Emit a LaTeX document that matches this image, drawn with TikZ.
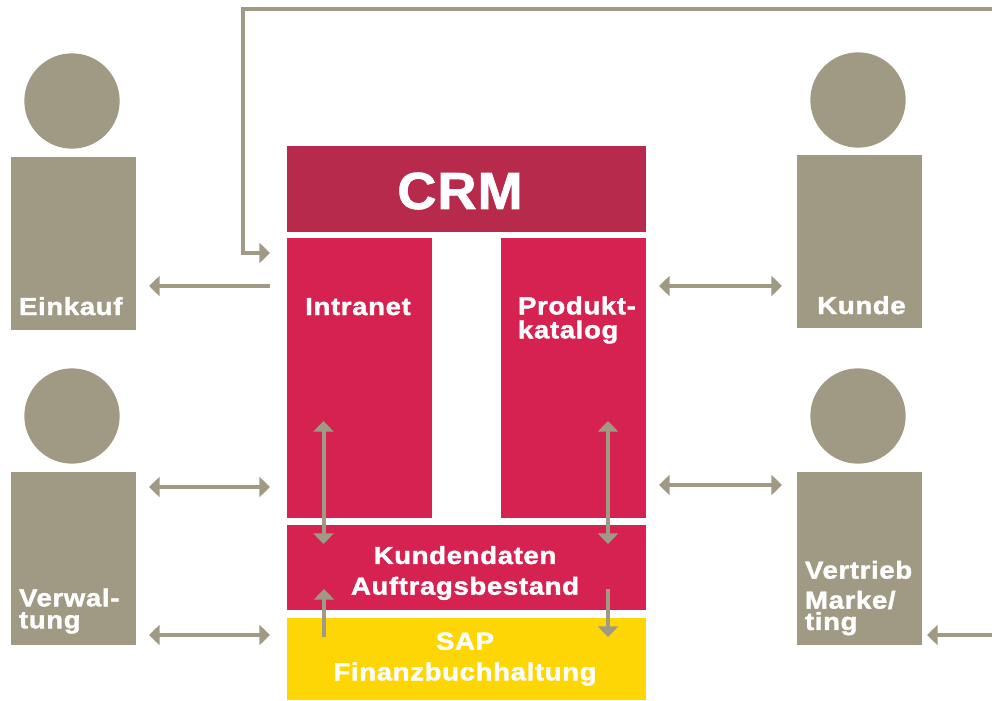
\documentclass[tikz,border=0pt]{standalone}
\usepackage{fontspec}
\setmainfont{Liberation Sans}
\newfontfamily\crmfont{Liberation Sans Bold}[FakeBold=1.5,FakeStretch=1.04,LetterSpace=2]
\newfontfamily\lblfont{Liberation Sans Bold}[FakeBold=1.5,FakeStretch=1.12,LetterSpace=2.5]
\usetikzlibrary{arrows.meta}
\definecolor{persongray}{HTML}{A09A85}
\definecolor{crmred}{HTML}{B82A4C}
\definecolor{appred}{HTML}{D62250}
\definecolor{sapyellow}{HTML}{FFD605}
\tikzset{
  x=0.75pt,y=-0.75pt,
  blockbox/.style={inner sep=0,outer sep=0,draw=none},
  head/.style={circle,fill=persongray,inner sep=0,outer sep=0,minimum size=71.5pt},
  body/.style={blockbox,fill=persongray,minimum width=93.75pt,minimum height=129.75pt},
  lbl/.style={text=white,font=\fontsize{18.5}{18}\lblfont,inner sep=0,outer sep=0},
  conn/.style={draw=persongray,line width=3pt},
  one/.style={conn,-{Triangle[length=8pt,width=15pt]}},
  two/.style={conn,{Triangle[length=8pt,width=15pt]}-{Triangle[length=8pt,width=15pt]}},
}
\begin{document}
\begin{tikzpicture}
\useasboundingbox (0,0) rectangle (992,700);
% persons
\node[head] (h1) at (72,101) {};
\node[body] (b1) at (73.5,243.5) {};
\node[head] (h2) at (72,416) {};
\node[body] (b2) at (73.5,558.5) {};
\node[head] (h3) at (858,100) {};
\node[body] (b3) at (859.5,241.5) {};
\node[head] (h4) at (858,416) {};
\node[body] (b4) at (859.5,558.5) {};
% blocks
\node[blockbox,fill=crmred,minimum width=269.25pt,minimum height=64.5pt] (crm) at (466.5,189) {};
\node[blockbox,fill=appred,minimum width=108.75pt,minimum height=210pt] (intra) at (359.5,378) {};
\node[blockbox,fill=appred,minimum width=108.75pt,minimum height=210pt] (prod) at (573.5,378) {};
\node[blockbox,fill=appred,minimum width=269.25pt,minimum height=63.75pt] (kd) at (466.5,567.5) {};
\node[blockbox,fill=sapyellow,minimum width=269.25pt,minimum height=61.5pt] (sap) at (466.5,659) {};
% labels
\node[text=white,inner sep=0,font=\fontsize{39}{40}\crmfont] (tcrm) at (460,191) {CRM};
\node[lbl,anchor=base west] (t1) at (19,315) {Einkauf};
\node[lbl,anchor=base] (t3) at (861.5,314) {Kunde};
\node[lbl,anchor=base] (tintra) at (358,315) {Intranet};
\node[lbl,align=left,anchor=west] (tprod) at (518,320) {Produkt-\\katalog};
\node[lbl,align=center] (tkd) at (465,573) {Kundendaten\\[5pt]Auftragsbestand};
\node[lbl,align=center] (tsap) at (465,659) {SAP\\[5pt]Finanzbuchhaltung};
\node[lbl,align=left,anchor=west] (t2) at (19,611) {Verwal-\\[-1.5pt]tung};
\node[lbl,align=left,anchor=west] (t4) at (805,598) {Vertrieb\\[4.5pt]Marke/\\[-2pt]ting};
% free ends of connectors
\coordinate (topr) at (992,9);
\coordinate (topl) at (243,9);
\coordinate (topd) at (243,253);
\coordinate (tope) at (270,253);
\coordinate (a1s) at (270,286); \coordinate (a1e) at (149,286);
\coordinate (a2s) at (659,286); \coordinate (a2e) at (782,286);
\coordinate (a3s) at (149,487); \coordinate (a3e) at (270,487);
\coordinate (a4s) at (659,485); \coordinate (a4e) at (782,485);
\coordinate (a5s) at (149,635); \coordinate (a5e) at (270,635);
\coordinate (v1s) at (323.5,421); \coordinate (v1e) at (323.5,544);
\coordinate (v2s) at (608,421); \coordinate (v2e) at (608,544);
\coordinate (v3s) at (324,637); \coordinate (v3e) at (324,589);
\coordinate (v4s) at (608,589); \coordinate (v4e) at (608,637);
\coordinate (r1s) at (992,635); \coordinate (r1e) at (927,635);
% connectors
\draw[one] (topr) -- (topl) -- (topd) -- (tope);
\draw[one] (a1s) -- (a1e);
\draw[two] (a2s) -- (a2e);
\draw[two] (a3s) -- (a3e);
\draw[two] (a4s) -- (a4e);
\draw[two] (a5s) -- (a5e);
\draw[two] (v1s) -- (v1e);
\draw[two] (v2s) -- (v2e);
\draw[one] (v3s) -- (v3e);
\draw[one] (v4s) -- (v4e);
\draw[one] (r1s) -- (r1e);
\end{tikzpicture}
\end{document}
